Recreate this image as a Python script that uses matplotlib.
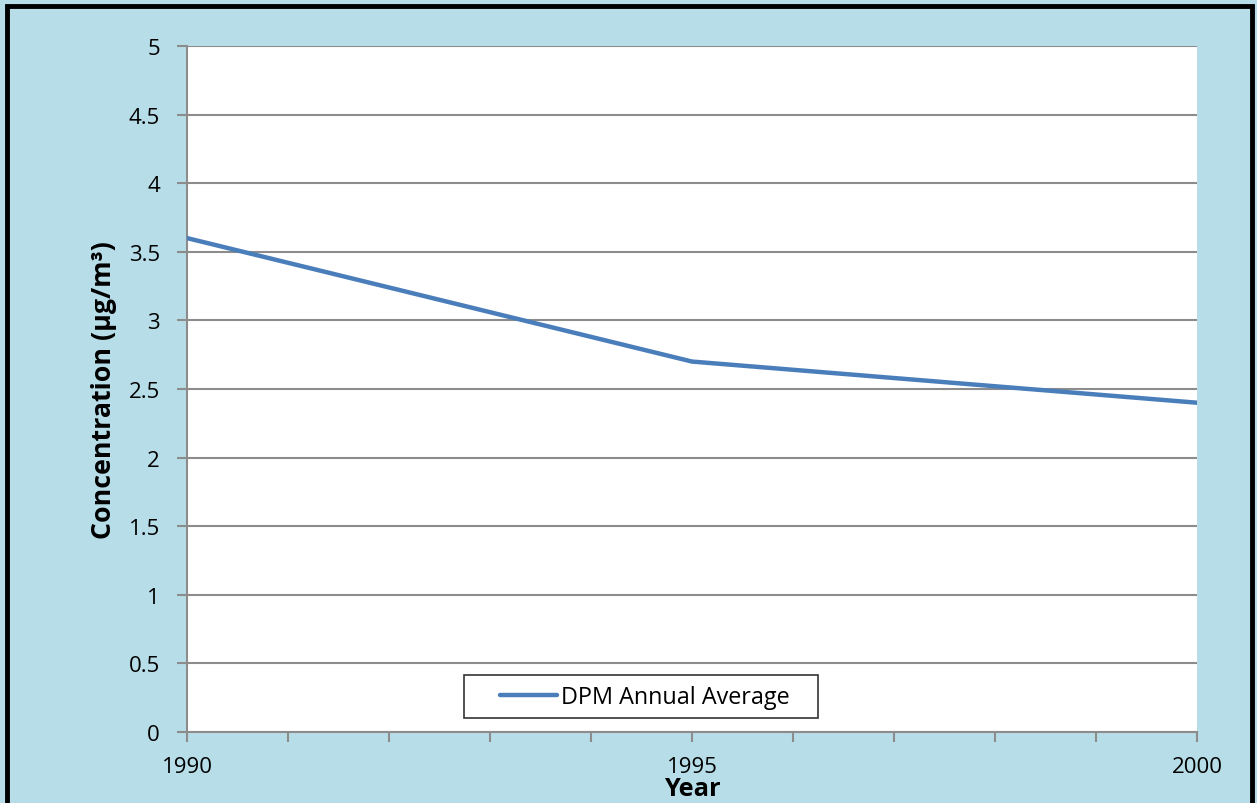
import numpy as np
import matplotlib
matplotlib.use("Agg")
import matplotlib.pyplot as plt
from matplotlib.ticker import MultipleLocator, FuncFormatter
from matplotlib.patches import Rectangle
from matplotlib.legend_handler import HandlerLine2D

# Data
years = [1990, 1995, 2000]
dpm_avg = [3.6, 2.7, 2.4]
series_label = "DPM Annual Average"
x_label = "Year"
y_label = "Concentration (µg/m³)"

plt.rcParams["font.family"] = ["Open Sans", "DejaVu Sans"]

bg = "#B7DEE8"
grid_c = "#8C8C8C"
line_c = "#4A7EBB"


class IndentedLineHandler(HandlerLine2D):
    """Legend line that starts a bit to the right inside its handle box."""

    def __init__(self, indent=0.3, **kw):
        super().__init__(**kw)
        self.indent = indent

    def get_xdata(self, legend, xdescent, ydescent, width, height, fontsize):
        x0 = -xdescent + self.indent * width
        x1 = -xdescent + width
        return np.array([x0, x1]), np.array([x0, x1])


fig = plt.figure(figsize=(12.57, 8.04), dpi=100, facecolor=bg)
ax = fig.add_axes([187 / 1257, 1 - 733 / 804, 1010 / 1257, 686 / 804])
ax.set_facecolor("white")

line, = ax.plot(years, dpm_avg, color=line_c, linewidth=3.2,
                solid_capstyle="round", label=series_label, zorder=3)

ax.set_xlim(1990, 2000)
ax.set_ylim(0, 5)
ax.yaxis.set_major_locator(MultipleLocator(0.5))
ax.xaxis.set_major_locator(MultipleLocator(1))
ax.xaxis.set_major_formatter(
    FuncFormatter(lambda v, p: f"{int(round(v))}" if int(round(v)) % 5 == 0 else ""))
ax.yaxis.set_major_formatter(FuncFormatter(lambda v, p: f"{v:g}"))

ax.grid(axis="y", color=grid_c, linewidth=1.5, zorder=1)
for s in ["top", "right"]:
    ax.spines[s].set_visible(False)
for s in ["left", "bottom"]:
    ax.spines[s].set_color(grid_c)
    ax.spines[s].set_linewidth(1.5)

ax.tick_params(axis="both", colors=grid_c, labelcolor="black", width=1.5,
               length=7, direction="out", labelsize=16)
ax.tick_params(axis="y", pad=12.5)
ax.tick_params(axis="x", pad=10.5)

ax.set_xlabel(x_label, fontsize=18.3, fontweight="bold")
ax.set_ylabel(y_label, fontsize=19.3, fontweight="bold")
ax.yaxis.set_label_coords(-0.069, 0.5)
ax.xaxis.set_label_coords(0.5, -0.064)

leg = ax.legend(loc="lower left", bbox_to_anchor=(0.2743, 0.0204, 0.3505, 0.07),
                mode="expand", fontsize=16.8, frameon=True, fancybox=False,
                handlelength=3.6, borderpad=0.4, handletextpad=0.17,
                borderaxespad=0,
                handler_map={line: IndentedLineHandler(indent=0.32)})
leg.get_frame().set_edgecolor("black")
leg.get_frame().set_linewidth(1.2)

# Outer black frame of the chart area
fig.patches.append(Rectangle((7 / 1257, -0.02), 1245 / 1257, 1.02 - 7 / 804,
                             transform=fig.transFigure, fill=False,
                             edgecolor="black", linewidth=3.5))

fig.savefig("out.png", dpi=100, facecolor=bg)
